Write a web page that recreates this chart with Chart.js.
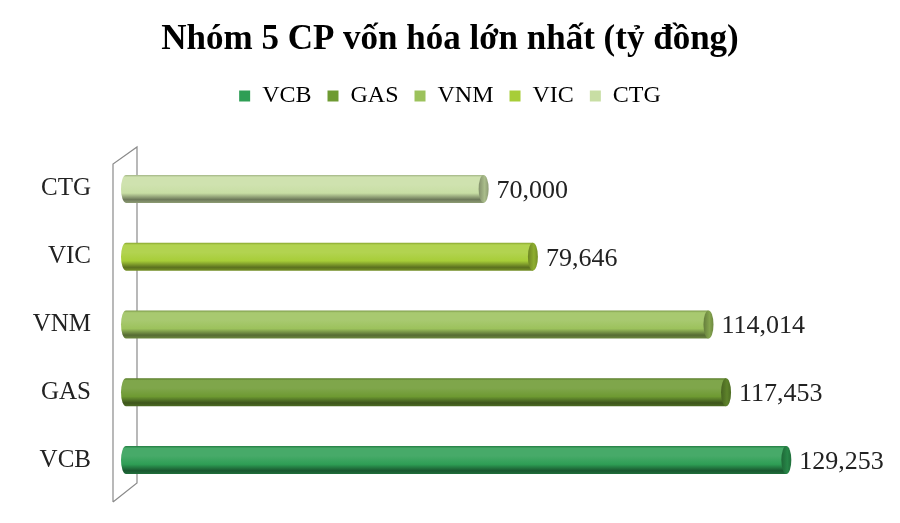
<!DOCTYPE html>
<html lang="vi">
<head>
  <meta charset="utf-8">
  <title>Nhóm 5 CP vốn hóa lớn nhất</title>
  <script src="https://cdn.jsdelivr.net/npm/chart.js@4.4.1/dist/chart.umd.min.js"></script>
  <style>
    html, body { margin: 0; padding: 0; background: #fff; }
    #wrap { width: 900px; height: 523px; }
  </style>
</head>
<body>
  <div id="wrap"><canvas id="chart"></canvas></div>
  <script>
    const titleText = 'Nhóm 5 CP vốn hóa lớn nhất (tỷ đồng)';
    const tickers = ['VCB', 'GAS', 'VNM', 'VIC', 'CTG'];
    const values = [129253, 117453, 114014, 79646, 70000];
    const colors = ['#2e9e55', '#6e9a32', '#9cc25c', '#a7cd38', '#c8dea4'];

    const serif = '"Liberation Serif", "Times New Roman", serif';

    // rgb helpers for the cylinder shading
    function hexRgb(h) {
      const n = parseInt(h.slice(1), 16);
      return [(n >> 16) & 255, (n >> 8) & 255, n & 255];
    }
    function shade(h, f) {
      const c = hexRgb(h).map(v => f >= 0 ? v + (255 - v) * f : v * (1 + f));
      return 'rgb(' + c.map(v => Math.round(v)).join(',') + ')';
    }

    // extra room between legend and plot
    const legendGap = {
      id: 'legendGap',
      beforeInit(chart) {
        const fit = chart.legend.fit;
        chart.legend.fit = function () {
          fit.call(this);
          this.height += 37;
        };
      }
    };

    // 3D side wall behind the bars
    const wallPlugin = {
      id: 'wall',
      beforeDatasetsDraw(chart) {
        const { ctx, chartArea: a } = chart;
        const fx = a.left - 13, bx = a.left + 11;
        ctx.save();
        ctx.strokeStyle = '#8a8a8a';
        ctx.lineWidth = 1.2;
        ctx.beginPath();
        ctx.moveTo(fx, a.bottom + 8);
        ctx.lineTo(fx, a.top + 9);
        ctx.lineTo(bx, a.top - 8);
        ctx.lineTo(bx, a.bottom - 11);
        ctx.lineTo(fx, a.bottom + 8);
        ctx.stroke();
        ctx.restore();
      }
    };

    // cylinder bars and value labels, placed from the bar elements
    const cylinderPlugin = {
      id: 'cylinders',
      afterDatasetsDraw(chart) {
        const { ctx } = chart;
        const meta = chart.getDatasetMeta(0);
        meta.data.forEach((bar, i) => {
          const c = colors[i];
          const x0 = bar.base, x1 = bar.x, yc = bar.y, h = bar.height;
          const top = yc - h / 2, rx = 5, ry = h / 2;
          const g = ctx.createLinearGradient(0, top, 0, top + h);
          g.addColorStop(0, shade(c, -0.2));
          g.addColorStop(0.08, shade(c, 0.12));
          g.addColorStop(0.35, shade(c, 0.12));
          g.addColorStop(0.65, c);
          g.addColorStop(0.88, shade(c, -0.45));
          g.addColorStop(1, shade(c, -0.3));
          ctx.save();
          ctx.fillStyle = g;
          ctx.beginPath();
          ctx.moveTo(x0, top);
          ctx.lineTo(x1, top);
          ctx.lineTo(x1, top + h);
          ctx.lineTo(x0, top + h);
          ctx.ellipse(x0, yc, rx, ry, 0, Math.PI / 2, Math.PI * 1.5);
          ctx.closePath();
          ctx.fill();
          // end face
          const eg = ctx.createLinearGradient(x1 - rx, 0, x1 + rx, 0);
          eg.addColorStop(0, shade(c, -0.35));
          eg.addColorStop(0.6, shade(c, -0.15));
          eg.addColorStop(1, shade(c, -0.3));
          ctx.fillStyle = eg;
          ctx.beginPath();
          ctx.ellipse(x1, yc, rx, ry, 0, 0, Math.PI * 2);
          ctx.fill();
          // value label
          ctx.fillStyle = '#222';
          ctx.font = '26px ' + serif;
          ctx.textAlign = 'left';
          ctx.textBaseline = 'middle';
          ctx.fillText(values[i].toLocaleString('en-US'), x1 + rx + 8, yc + 2);
          ctx.restore();
        });
      }
    };

    new Chart(document.getElementById('chart'), {
      type: 'bar',
      data: {
        labels: tickers,
        datasets: [{
          label: titleText,
          data: values,
          backgroundColor: 'rgba(0,0,0,0)',
          barThickness: 28
        }]
      },
      options: {
        indexAxis: 'y',
        responsive: true,
        maintainAspectRatio: false,
        animation: false,
        layout: { padding: { left: 0, right: 0, top: 0, bottom: 29 } },
        plugins: {
          tooltip: { enabled: false },
          title: {
            display: true,
            text: titleText,
            color: '#000',
            font: { family: serif, size: 35, weight: 'bold' },
            padding: { top: 19, bottom: 7 }
          },
          legend: {
            display: true,
            labels: {
              color: '#222',
              font: { family: serif, size: 24 },
              boxWidth: 11,
              boxHeight: 11,
              padding: 16,
              generateLabels: () => tickers.map((t, i) => ({
                text: t,
                fillStyle: colors[i],
                strokeStyle: colors[i],
                lineWidth: 0,
                hidden: false,
                index: i
              }))
            },
            onClick: () => {}
          }
        },
        scales: {
          x: {
            display: false,
            min: 0,
            max: 151500
          },
          y: {
            reverse: true,
            grid: { display: false, drawTicks: false },
            border: { display: false },
            ticks: {
              color: '#222',
              font: { family: serif, size: 25 },
              padding: 35
            },
            afterFit(scale) {
              scale.width = 126;
              scale.paddingTop = 0;
              scale.paddingBottom = 0;
            }
          }
        }
      },
      plugins: [legendGap, wallPlugin, cylinderPlugin]
    });
  </script>
</body>
</html>
